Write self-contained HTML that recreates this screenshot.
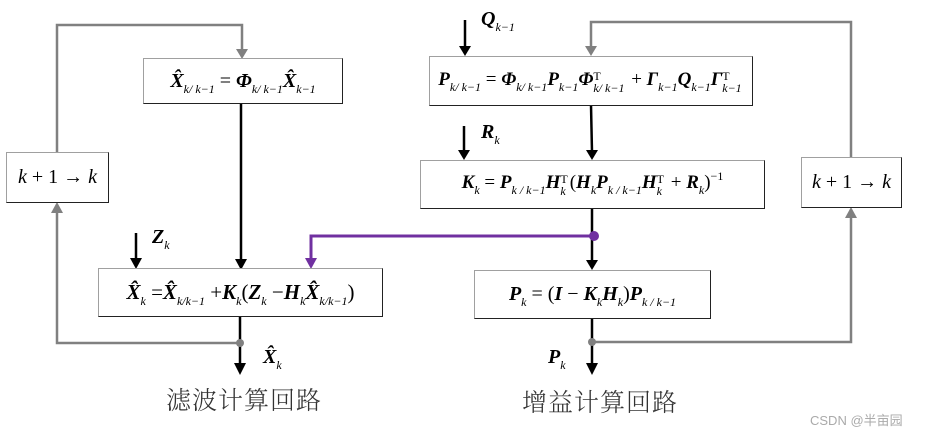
<!DOCTYPE html>
<html><head><meta charset="utf-8"><style>
body{margin:0;width:931px;height:435px;background:#fff;position:relative;overflow:hidden;font-family:"Liberation Serif",serif;}
.box{position:absolute;box-sizing:border-box;border:1.5px solid #a0a0a0;border-right-color:#222;border-bottom-color:#222;background:#fff;display:flex;align-items:center;justify-content:center;white-space:nowrap;font-size:20px;color:#000;}
.box > span{display:block;white-space:nowrap;}
b{font-style:italic;font-weight:bold;}
i{font-style:italic;}
sub{font-size:12px;font-style:italic;vertical-align:-6px;line-height:0;}
sup{font-size:12px;vertical-align:8px;line-height:0;}
.ss{display:inline-block;font-size:12px;line-height:12px;vertical-align:-7px;margin-right:2px;text-align:left}
.ss span{display:block}
.lbl{position:absolute;font-size:20px;white-space:nowrap;}
.cn{position:absolute;font-family:"Liberation Serif","Noto Serif CJK SC",serif;font-size:25px;color:#333;letter-spacing:1px;font-weight:300}
svg{position:absolute;left:0;top:0;}
</style></head><body>
<svg width="931" height="435">
<g fill="none" stroke-width="2.5">
<path d="M57,152 V25 H242 V50" stroke="#808080"/>
<path d="M57,208 V343 H240" stroke="#808080"/>
<path d="M851,157 V22 H591 V50" stroke="#808080"/>
<path d="M851,213 V342 H592" stroke="#808080"/>
<path d="M241,103 V260" stroke="#000"/>
<path d="M136,233 V260" stroke="#000"/>
<path d="M240,316 V365" stroke="#000"/>
<path d="M465,20 V47" stroke="#000"/>
<path d="M464,126 V152" stroke="#000"/>
<path d="M591,105 L592,152" stroke="#000"/>
<path d="M592,208 V262" stroke="#000"/>
<path d="M592,318 V365" stroke="#000"/>
<path d="M592,236 H311 V260" stroke="#7030a0" stroke-width="3"/>
</g>
<g fill="#000">
<path d="M235,259 h12 l-6,11z"/><path d="M130,258 h12 l-6,11z"/>
<path d="M234,363 h12 l-6,12z"/><path d="M459,46 h12 l-6,10z"/>
<path d="M458,150 h12 l-6,10z"/><path d="M586,150 h12 l-6,10z"/>
<path d="M586,260 h12 l-6,10z"/><path d="M586,363 h12 l-6,12z"/>
</g>
<g fill="#808080">
<path d="M236,49 h12 l-6,10z"/><path d="M585,46 h12 l-6,10z"/>
<path d="M51,213 h12 l-6,-11z"/><path d="M845,218 h12 l-6,-11z"/>
<circle cx="240" cy="343" r="4"/><circle cx="592" cy="342" r="4"/>
</g>
<path d="M305,258 h12 l-6,11z" fill="#7030a0"/>
<circle cx="594" cy="236" r="5" fill="#7030a0"/>
</svg>

<div class="box" style="left:143px;top:58px;width:200px;height:46px"><span><b>X̂</b><sub>k/ k−1</sub> = <b>Φ</b><sub>k/ k−1</sub><b>X̂</b><sub>k−1</sub></span></div>
<div class="box" style="left:6px;top:152px;width:103px;height:51px;font-size:20px"><span><i>k</i> + 1 → <i>k</i></span></div>
<div class="box" style="left:98px;top:268px;width:285px;height:49px;font-size:21px"><span><b>X̂</b><sub>k</sub> =<b>X̂</b><sub>k/k−1</sub> +<b>K</b><sub>k</sub>(<b>Z</b><sub>k</sub> −<b>H</b><sub>k</sub><b>X̂</b><sub>k/k−1</sub>)</span></div>
<div class="box" style="left:429px;top:56px;width:324px;height:50px;font-size:19px"><span><b>P</b><sub>k/ k−1</sub> = <b>Φ</b><sub>k/ k−1</sub><b>P</b><sub>k−1</sub><b>Φ</b><span class="ss"><span style="font-style:normal">T</span><i>k/ k−1</i></span> + <b>Γ</b><sub>k−1</sub><b>Q</b><sub>k−1</sub><b>Γ</b><span class="ss"><span style="font-style:normal">T</span><i>k−1</i></span></span></div>
<div class="box" style="left:420px;top:160px;width:345px;height:49px;font-size:19px"><span><b>K</b><sub>k</sub> = <b>P</b><sub>k / k−1</sub><b>H</b><span class="ss"><span style="font-style:normal">T</span><i>k</i></span>(<b>H</b><sub>k</sub><b>P</b><sub>k / k−1</sub><b>H</b><span class="ss"><span style="font-style:normal">T</span><i>k</i></span> + <b>R</b><sub>k</sub>)<sup>−1</sup></span></div>
<div class="box" style="left:474px;top:270px;width:237px;height:49px;font-size:20px"><span><b>P</b><sub>k</sub> = (<b>I</b> − <b>K</b><sub>k</sub><b>H</b><sub>k</sub>)<b>P</b><sub>k / k−1</sub></span></div>
<div class="box" style="left:801px;top:157px;width:101px;height:51px;font-size:20px"><span><i>k</i> + 1 → <i>k</i></span></div>

<div class="lbl" style="left:152px;top:226px"><b>Z</b><sub>k</sub></div>
<div class="lbl" style="left:263px;top:346px"><b>X̂</b><sub>k</sub></div>
<div class="lbl" style="left:481px;top:8px"><b>Q</b><sub>k−1</sub></div>
<div class="lbl" style="left:481px;top:121px"><b>R</b><sub>k</sub></div>
<div class="lbl" style="left:548px;top:346px"><b>P</b><sub>k</sub></div>
<div class="cn" style="left:166px;top:381px">滤波计算回路</div>
<div class="cn" style="left:522px;top:383px">增益计算回路</div>
<div style="position:absolute;left:810px;top:410px;font-family:'Liberation Sans','Noto Sans CJK SC',sans-serif;font-size:13px;color:#aaa">CSDN @半亩园</div>
</body></html>
